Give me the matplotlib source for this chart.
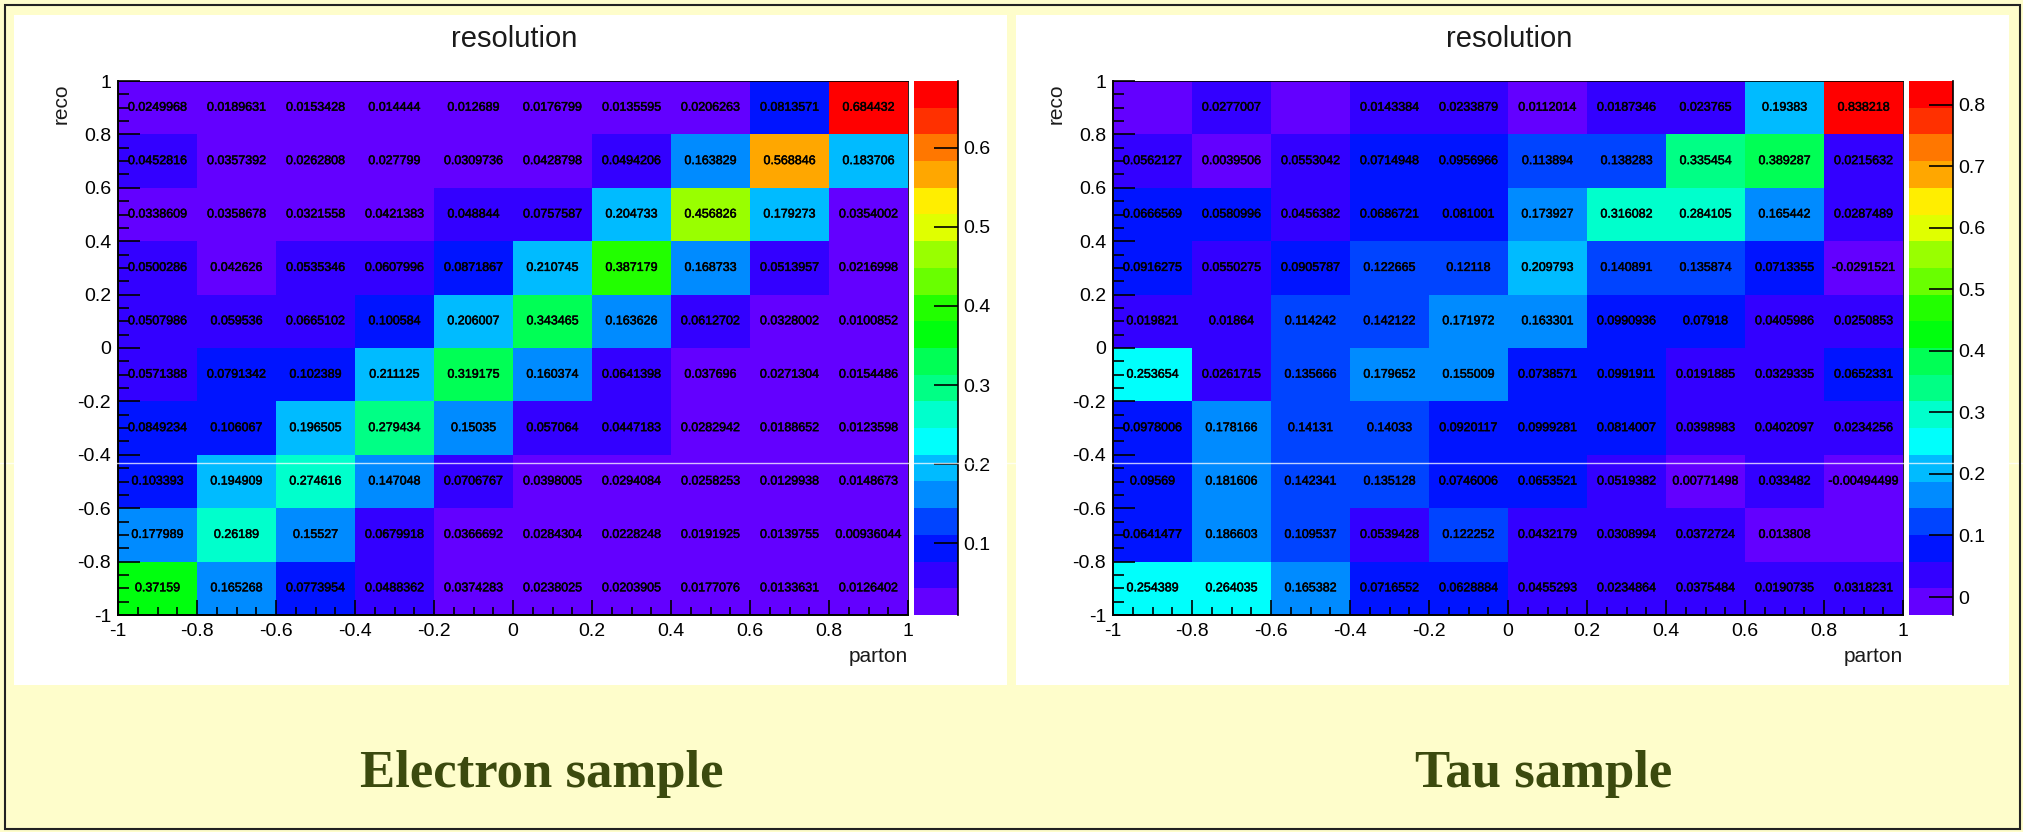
import colorsys

import matplotlib

matplotlib.use("Agg")
import matplotlib.patheffects as pe  # noqa: E402
import matplotlib.pyplot as plt  # noqa: E402
import numpy as np  # noqa: E402
from matplotlib.colors import BoundaryNorm, ListedColormap  # noqa: E402
from matplotlib.lines import Line2D  # noqa: E402
from matplotlib.patches import Rectangle  # noqa: E402
from matplotlib.ticker import FuncFormatter, MultipleLocator, NullLocator  # noqa: E402

W, H = 2024, 832
BG = "#fefdcb"
CAPTION = "#3b4a0e"

# histogram binning (parton on x, reco on y)
parton_edges = [-1.0, -0.8, -0.6, -0.4, -0.2, 0.0, 0.2, 0.4, 0.6, 0.8, 1.0]
reco_edges = [-1.0, -0.8, -0.6, -0.4, -0.2, 0.0, 0.2, 0.4, 0.6, 0.8, 1.0]

# bin contents, one list per reco bin, from reco = -1 (bottom) upwards
electron = [
    [0.37159, 0.165268, 0.0773954, 0.0488362, 0.0374283, 0.0238025, 0.0203905, 0.0177076, 0.0133631, 0.0126402],
    [0.177989, 0.26189, 0.15527, 0.0679918, 0.0366692, 0.0284304, 0.0228248, 0.0191925, 0.0139755, 0.00936044],
    [0.103393, 0.194909, 0.274616, 0.147048, 0.0706767, 0.0398005, 0.0294084, 0.0258253, 0.0129938, 0.0148673],
    [0.0849234, 0.106067, 0.196505, 0.279434, 0.15035, 0.057064, 0.0447183, 0.0282942, 0.0188652, 0.0123598],
    [0.0571388, 0.0791342, 0.102389, 0.211125, 0.319175, 0.160374, 0.0641398, 0.037696, 0.0271304, 0.0154486],
    [0.0507986, 0.059536, 0.0665102, 0.100584, 0.206007, 0.343465, 0.163626, 0.0612702, 0.0328002, 0.0100852],
    [0.0500286, 0.042626, 0.0535346, 0.0607996, 0.0871867, 0.210745, 0.387179, 0.168733, 0.0513957, 0.0216998],
    [0.0338609, 0.0358678, 0.0321558, 0.0421383, 0.048844, 0.0757587, 0.204733, 0.456826, 0.179273, 0.0354002],
    [0.0452816, 0.0357392, 0.0262808, 0.027799, 0.0309736, 0.0428798, 0.0494206, 0.163829, 0.568846, 0.183706],
    [0.0249968, 0.0189631, 0.0153428, 0.014444, 0.012689, 0.0176799, 0.0135595, 0.0206263, 0.0813571, 0.684432],
]

tau = [
    [0.254389, 0.264035, 0.165382, 0.0716552, 0.0628884, 0.0455293, 0.0234864, 0.0375484, 0.0190735, 0.0318231],
    [0.0641477, 0.186603, 0.109537, 0.0539428, 0.122252, 0.0432179, 0.0308994, 0.0372724, 0.013808, 0.0],
    [0.09569, 0.181606, 0.142341, 0.135128, 0.0746006, 0.0653521, 0.0519382, 0.00771498, 0.033482, -0.00494499],
    [0.0978006, 0.178166, 0.14131, 0.14033, 0.0920117, 0.0999281, 0.0814007, 0.0398983, 0.0402097, 0.0234256],
    [0.253654, 0.0261715, 0.135666, 0.179652, 0.155009, 0.0738571, 0.0991911, 0.0191885, 0.0329335, 0.0652331],
    [0.019821, 0.01864, 0.114242, 0.142122, 0.171972, 0.163301, 0.0990936, 0.07918, 0.0405986, 0.0250853],
    [0.0916275, 0.0550275, 0.0905787, 0.122665, 0.12118, 0.209793, 0.140891, 0.135874, 0.0713355, -0.0291521],
    [0.0666569, 0.0580996, 0.0456382, 0.0686721, 0.081001, 0.173927, 0.316082, 0.284105, 0.165442, 0.0287489],
    [0.0562127, 0.0039506, 0.0553042, 0.0714948, 0.0956966, 0.113894, 0.138283, 0.335454, 0.389287, 0.0215632],
    [0.0, 0.0277007, 0.0, 0.0143384, 0.0233879, 0.0112014, 0.0187346, 0.023765, 0.19383, 0.838218],
]

samples = ["Electron sample", "Tau sample"]

NCONT = 20


def root_palette(ncont=NCONT, ncolors=50):
    """Old ROOT 'pretty' palette (violet -> red, HLS hue scan), sampled per contour."""
    cols = []
    for k in range(ncont):
        idx = int((k + 0.99) * ncolors / ncont)
        hue = 280.0 - (idx + 1) * (280.0 / ncolors)
        cols.append(colorsys.hls_to_rgb(max(hue, 0.0) / 360.0, 0.5, 1.0))
    return ListedColormap(cols)


def px(x, y):
    # pixel (from top-left) -> figure fraction
    return x / W, 1 - y / H


def fmt(v, _pos=None):
    return f"{round(v, 2) + 0.0:g}"


def draw_panel(fig, pad_x, x_off, values, name):
    vals = np.array(values)
    zmin, zmax = vals.min(), vals.max()
    norm = BoundaryNorm(np.linspace(zmin, zmax, NCONT + 1), NCONT, clip=True)
    cmap = root_palette()

    # white pad behind the histogram
    fig.add_artist(Rectangle(px(pad_x, 685), 993 / W, 670 / H, transform=fig.transFigure,
                             facecolor="white", edgecolor="none", zorder=-1))

    ax = fig.add_axes([(118 + x_off) / W, 1 - 615 / H, 790 / W, 534 / H])
    mesh = ax.pcolormesh(parton_edges, reco_edges, vals, cmap=cmap, norm=norm)

    xc = 0.5 * (np.array(parton_edges[:-1]) + np.array(parton_edges[1:]))
    yc = 0.5 * (np.array(reco_edges[:-1]) + np.array(reco_edges[1:]))
    thicken = [pe.withStroke(linewidth=0.35, foreground="black")]
    for j, y in enumerate(yc):
        for i, x in enumerate(xc):
            v = vals[j, i]
            if v == 0:
                continue
            ax.text(x, y, f"{v:g}", ha="center", va="center", fontsize=9,
                    family="Liberation Sans", color="black", path_effects=thicken)

    ax.set_xlim(-1, 1)
    ax.set_ylim(-1, 1)
    for a in (ax.xaxis, ax.yaxis):
        a.set_major_locator(MultipleLocator(0.2))
        a.set_minor_locator(MultipleLocator(0.05))
        a.set_major_formatter(FuncFormatter(fmt))
    ax.tick_params(axis="both", which="both", direction="in", top=False, right=False,
                   labelsize=14, colors="black", width=1.2)
    ax.tick_params(axis="y", which="major", length=16, pad=5)
    ax.tick_params(axis="y", which="minor", length=8)
    ax.tick_params(axis="x", which="major", length=11, pad=6)
    ax.tick_params(axis="x", which="minor", length=5.5)
    for lab in ax.get_xticklabels() + ax.get_yticklabels():
        lab.set_family("Liberation Sans")
    for side in ("left", "bottom"):
        ax.spines[side].set_linewidth(1.4)
    for side in ("top", "right"):
        ax.spines[side].set_linewidth(0.6)

    # colour scale
    cax = fig.add_axes([(914 + x_off) / W, 1 - 615 / H, 44 / W, 534 / H])
    cbar = fig.colorbar(mesh, cax=cax, spacing="proportional")
    cbar.locator = MultipleLocator(0.1)
    cbar.formatter = FuncFormatter(fmt)
    cbar.update_ticks()
    cax.yaxis.set_minor_locator(NullLocator())
    cbar.outline.set_visible(False)
    cax.tick_params(direction="in", length=17, width=1.2, labelsize=14, pad=4)
    for lab in cax.get_yticklabels():
        lab.set_family("Liberation Sans")
    cax.plot([1, 1], [0, 1], transform=cax.transAxes, color="black", lw=1.2, clip_on=False)

    fig.text(*px(514 + x_off, 39), "resolution", ha="center", va="center", fontsize=21,
             family="Liberation Sans", color="#1a1a1a")
    fig.text(*px(61 + x_off, 84), "reco", rotation=90, ha="center", va="top", fontsize=15,
             family="Liberation Sans", color="#1a1a1a")
    fig.text(*px(908 + x_off, 657), "parton", ha="right", va="center", fontsize=15,
             family="Liberation Sans", color="#1a1a1a")
    fig.text(*px(542 + x_off * 1.0065, 787), name, ha="center", va="baseline", fontsize=38,
             fontweight="bold", family="Liberation Serif", color=CAPTION)


fig = plt.figure(figsize=(W / 100, H / 100), dpi=100, facecolor=BG)

draw_panel(fig, 14, 0, electron, samples[0])
draw_panel(fig, 1016, 995, tau, samples[1])

# thin light streak across the page and the outer frame
fig.add_artist(Line2D([0, 1], [1 - 463 / H] * 2, transform=fig.transFigure,
                      color="white", lw=1.0, alpha=0.75, zorder=5))
fig.add_artist(Rectangle(px(5, 829), 2015 / W, 824 / H, transform=fig.transFigure,
                         fill=False, edgecolor="#222222", lw=1.5, zorder=6))

fig.savefig("out.png", dpi=100, facecolor=BG)
